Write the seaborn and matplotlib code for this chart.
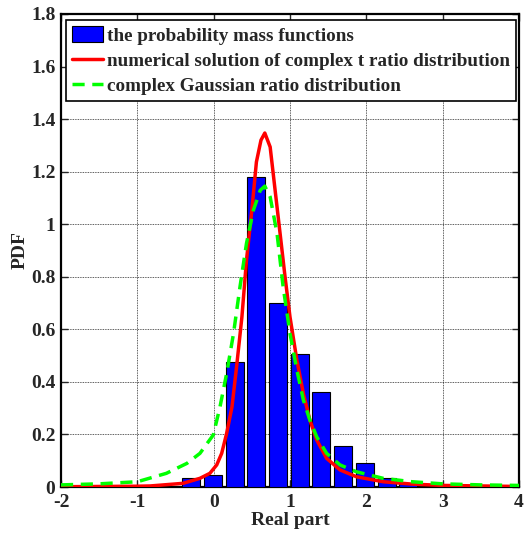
import numpy as np
import pandas as pd
import matplotlib
matplotlib.use("Agg")
import matplotlib.pyplot as plt
import seaborn as sns
from matplotlib.patches import Patch
from matplotlib.lines import Line2D

# ---- data ----
bin_centers = [-0.86, -0.58, -0.30, -0.01, 0.28, 0.56, 0.84, 1.13, 1.41, 1.70, 1.98, 2.27, 2.55, 2.84]
pmf_heights = [0.002, 0.005, 0.033, 0.045, 0.475, 1.18, 0.70, 0.505, 0.362, 0.155, 0.09, 0.033, 0.012, 0.004]

t_x = [-2.0, -1.5, -1.0, -0.83, -0.40, -0.18, -0.05, 0.04, 0.105, 0.17, 0.24, 0.30, 0.37, 0.43, 0.50,
       0.56, 0.62, 0.67, 0.74, 0.80, 0.87, 0.935, 1.0, 1.09, 1.175, 1.26, 1.35, 1.48, 1.655, 1.87,
       2.22, 2.6, 3.0, 3.5, 4.0]
t_y = [0.001, 0.002, 0.003, 0.004, 0.014, 0.033, 0.052, 0.084, 0.128, 0.204, 0.305, 0.457, 0.647, 0.863, 1.053,
       1.237, 1.32, 1.347, 1.294, 1.142, 0.965, 0.80, 0.647, 0.483, 0.356, 0.255, 0.179, 0.109, 0.065, 0.039,
       0.020, 0.011, 0.006, 0.004, 0.002]

g_x = [-2.0, -1.5, -1.0, -0.62, -0.35, -0.18, -0.005, 0.083, 0.17, 0.26, 0.345, 0.43, 0.52, 0.61, 0.67,
       0.74, 0.83, 0.91, 1.0, 1.09, 1.175, 1.26, 1.35, 1.48, 1.655, 1.87, 2.22, 2.6, 3.0, 3.5, 4.0]
g_y = [0.008, 0.012, 0.02, 0.052, 0.09, 0.128, 0.198, 0.305, 0.432, 0.584, 0.762, 0.927, 1.053, 1.129, 1.145,
       1.104, 0.965, 0.762, 0.584, 0.445, 0.331, 0.255, 0.191, 0.128, 0.084, 0.058, 0.033, 0.020, 0.012, 0.008, 0.006]

legend_labels = ["the probability mass functions",
                 "numerical solution of complex t ratio distribution",
                 "complex Gaussian ratio distribution"]
x_ticks = [-2, -1, 0, 1, 2, 3, 4]
y_ticks = [0, 0.2, 0.4, 0.6, 0.8, 1, 1.2, 1.4, 1.6, 1.8]
y_tick_labels = ["0", "0.2", "0.4", "0.6", "0.8", "1", "1.2", "1.4", "1.6", "1.8"]

sns.set_style("ticks")
plt.rcParams["font.family"] = ["Liberation Serif", "DejaVu Serif"]
plt.rcParams["font.weight"] = "bold"

fig = plt.figure(figsize=(5.28, 5.37), dpi=100)
ax = fig.add_axes([61 / 528, 1 - 487 / 537, (519 - 61) / 528, (487 - 14) / 537])

bars_df = pd.DataFrame({"x": bin_centers, "y": pmf_heights})
sns.barplot(data=bars_df, x="x", y="y", native_scale=True, width=0.84,
            color=(0, 0, 1), saturation=1, edgecolor="black", linewidth=0.8, ax=ax, zorder=3)

t_df = pd.DataFrame({"x": t_x, "y": t_y})
g_df = pd.DataFrame({"x": g_x, "y": g_y})
sns.lineplot(data=t_df, x="x", y="y", color=(1, 0, 0), linewidth=2.5, ax=ax, zorder=4)
sns.lineplot(data=g_df, x="x", y="y", color=(0, 1, 0), linewidth=2.5, ax=ax, zorder=5,
             linestyle=(0, (3.5, 2.2)))

ax.set_xlim(-2, 4)
ax.set_ylim(0, 1.8)
ax.set_xticks(x_ticks)
ax.set_xticklabels([str(v) for v in x_ticks])
ax.set_yticks(y_ticks)
ax.set_yticklabels(y_tick_labels)
ax.tick_params(axis="both", direction="in", length=5, width=1, labelsize=14,
               top=True, right=True)
ax.tick_params(axis="x", pad=5)
ax.tick_params(axis="y", pad=4)
for lab in ax.get_xticklabels() + ax.get_yticklabels():
    lab.set_fontweight("bold")
ax.grid(True, linestyle=(0, (1, 1)), color="black", linewidth=0.6, alpha=0.85)
ax.set_axisbelow(True)
for s in ax.spines.values():
    s.set_visible(True)
    s.set_linewidth(1.6)
    s.set_color("black")

ax.set_xlabel("Real part", fontsize=14, fontweight="bold", labelpad=1)
ax.set_ylabel("PDF", fontsize=14, fontweight="bold", labelpad=2)

handles = [Patch(facecolor=(0, 0, 1), edgecolor="black", linewidth=0.8),
           Line2D([], [], color=(1, 0, 0), linewidth=2.5),
           Line2D([], [], color=(0, 1, 0), linewidth=2.5, linestyle=(0, (3.5, 2.2)))]
leg = ax.legend(handles, legend_labels, loc="upper left", bbox_to_anchor=(0.003, 0.995),
                fancybox=False, framealpha=1, edgecolor="black",
                prop={"weight": "bold", "size": 13.8},
                handlelength=1.6, handleheight=0.9, handletextpad=0.25, borderpad=0.3,
                labelspacing=0.35, borderaxespad=0.2)
leg.get_frame().set_linewidth(1.2)
leg.set_zorder(10)

fig.savefig("out.png", dpi=100)
